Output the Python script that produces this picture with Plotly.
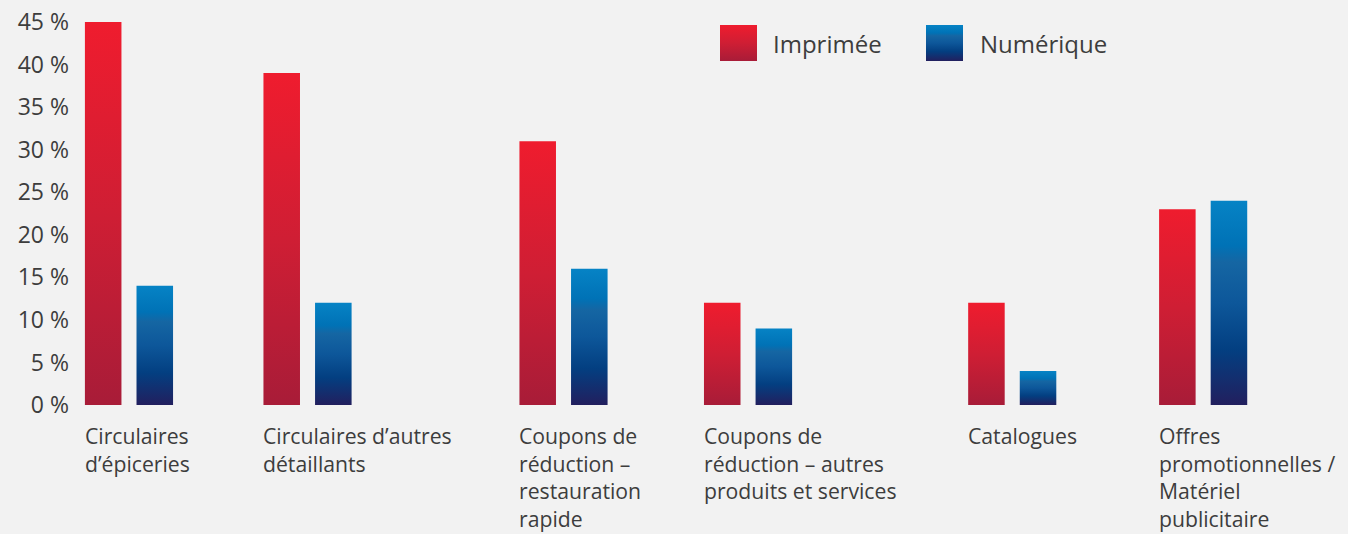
import plotly.graph_objects as go

# ---- data ----
categories = [
    "Circulaires<br>d’épiceries",
    "Circulaires d’autres<br>détaillants",
    "Coupons de<br>réduction –<br>restauration<br>rapide",
    "Coupons de<br>réduction – autres<br>produits et services",
    "Catalogues",
    "Offres<br>promotionnelles /<br>Matériel<br>publicitaire",
]
imprimee = [45, 39, 31, 12, 12, 23]
numerique = [14, 12, 16, 9, 4, 24]
series_names = ["Imprimée", "Numérique"]
y_ticks = [0, 5, 10, 15, 20, 25, 30, 35, 40, 45]
y_tick_text = [f"{v} %" for v in y_ticks]

# ---- layout parameters (not data) ----
group_pos = [1.143, 4.603, 9.564, 13.14, 18.26, 21.96]
bar_offset = 0.5
bar_half = 0.354
x_range = [0, 24.767]
y_range = [0, 45.94]

FONT = "Open Sans"
FS_CAT = 21.2
TXT = "#3d3d3d"
BG = "#f2f2f2"
red_scale = [[0, "#a81c38"], [0.5, "#cf1e34"], [1, "#ef1c2e"]]
blue_scale = [[0, "#221f5e"], [0.27, "#033f81"], [0.5, "#0d579a"],
              [0.7, "#1566a3"], [0.78, "#0072b6"], [1, "#0683c5"]]

fig = go.Figure()


def add_bar(xc, val, scale, name):
    x0, x1 = xc - bar_half, xc + bar_half
    fig.add_trace(go.Scatter(
        x=[x0, x0, x1, x1, x0], y=[0, val, val, 0, 0],
        mode="lines", fill="toself", line=dict(width=0),
        fillgradient=dict(type="vertical", colorscale=scale),
        name=name, showlegend=False, hoverinfo="text",
        text=f"{name}: {val} %",
    ))


for g, a, b in zip(group_pos, imprimee, numerique):
    add_bar(g - bar_offset, a, red_scale, series_names[0])
    add_bar(g + bar_offset, b, blue_scale, series_names[1])

# category labels, left-aligned under the red bar
for g, cat in zip(group_pos, categories):
    fig.add_annotation(
        x=g - bar_offset - bar_half, y=0, xref="x", yref="y",
        text=cat, showarrow=False, xanchor="left", yanchor="top",
        align="left", yshift=-14, xshift=-2,
        font=dict(family=FONT, size=FS_CAT, color=TXT),
    )

# manual legend (overlay axes in plot-area pixel units)
legend_items = [
    (650, 687, red_scale, series_names[0], 701),
    (856, 893, blue_scale, series_names[1], 908),
]
for x0, x1, sc, nm, tx in legend_items:
    fig.add_trace(go.Scatter(
        x=[x0, x0, x1, x1, x0], y=[47, 11, 11, 47, 47],
        xaxis="x2", yaxis="y2", mode="lines", fill="toself",
        line=dict(width=0), fillgradient=dict(type="vertical", colorscale=sc),
        showlegend=False, hoverinfo="skip",
    ))
    fig.add_annotation(
        x=tx, y=29, xref="x2", yref="y2", text=nm, showarrow=False,
        xanchor="left", yanchor="middle",
        font=dict(family=FONT, size=24, color=TXT),
    )

fig.update_layout(
    width=1348, height=534,
    margin=dict(l=70, r=0, t=14, b=129),
    paper_bgcolor=BG, plot_bgcolor=BG,
    showlegend=False,
    font=dict(family=FONT, size=22, color=TXT),
    xaxis=dict(range=x_range, visible=False, fixedrange=True),
    yaxis=dict(
        range=y_range, tickmode="array", tickvals=y_ticks, ticktext=y_tick_text,
        showgrid=False, zeroline=False, showline=False, ticks="",
        tickfont=dict(family=FONT, size=23, color=TXT), fixedrange=True,
    ),
    xaxis2=dict(range=[0, 1278], overlaying="x", visible=False, fixedrange=True),
    yaxis2=dict(range=[391, 0], overlaying="y", visible=False, fixedrange=True),
)

fig.write_html(
    "out.html",
    config={"displayModeBar": False},
    post_script="document.body.style.margin='0';document.body.style.background='#f2f2f2';document.body.style.overflow='hidden';",
)
